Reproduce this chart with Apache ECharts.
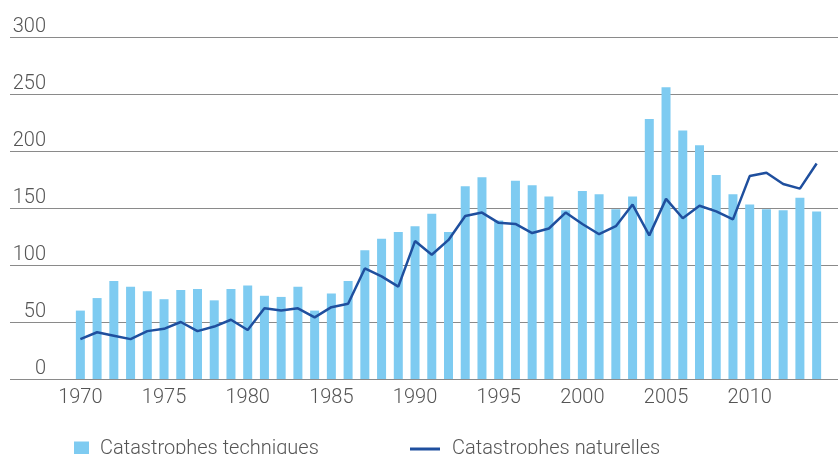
<!DOCTYPE html>
<html>
<head>
<meta charset="utf-8">
<script src="https://cdn.jsdelivr.net/npm/echarts@6/dist/echarts.min.js"></script>
<style>
  html, body { margin: 0; padding: 0; background: #fff; }
  #main { width: 838px; height: 454px; }
</style>
</head>
<body>
<div id="main"></div>
<script>
const years = [];
for (let y = 1970; y <= 2014; y++) years.push(String(y));

const techniques = [60, 71, 86, 81, 77, 70, 78, 79, 69, 79,
  82, 73, 72, 81, 60, 75, 86, 113, 123, 129,
  134, 145, 129, 169, 177, 139, 174, 170, 160, 148,
  165, 162, 149, 160, 228, 256, 218, 205, 179, 162,
  153, 149, 148, 159, 147];

const naturelles = [35, 41, 38, 35, 42, 44, 50, 42, 46, 52,
  43, 62, 60, 62, 54, 63, 66, 97, 90, 81,
  121, 109, 122, 143, 146, 137, 136, 128, 132, 146,
  136, 127, 134, 153, 126, 158, 141, 152, 147, 140,
  178, 181, 171, 167, 189];

const labelYears = ['1970', '1975', '1980', '1985', '1990', '1995', '2000', '2005', '2010'];

const font = 'Roboto, "Liberation Sans", sans-serif';
const textColor = '#555';

const chartDom = document.getElementById('main');
const myChart = echarts.init(chartDom);
const option = {
  animation: false,
  textStyle: { fontFamily: font },
  grid: [
    { left: 10, right: 0, top: 37, bottom: 75 },
    { left: 72, right: 13, top: 37, bottom: 75 }
  ],
  legend: [
    {
      data: ['Catastrophes techniques'],
      left: 74,
      top: 439,
      padding: 0,
      itemWidth: 15,
      itemHeight: 15,
      icon: 'rect',
      textStyle: { fontFamily: font, fontWeight: 300, fontSize: 20, color: textColor, padding: [0, 0, 0, 6] }
    },
    {
      data: ['Catastrophes naturelles'],
      left: 410,
      top: 439,
      padding: 0,
      itemWidth: 30,
      itemHeight: 3,
      icon: 'rect',
      textStyle: { fontFamily: font, fontWeight: 300, fontSize: 20, color: textColor, padding: [0, 0, 0, 7] }
    }
  ],
  xAxis: [
    { type: 'value', gridIndex: 0, show: false, min: 0, max: 1 },
    {
      type: 'category',
      gridIndex: 1,
      data: years,
      axisLine: { show: false },
      axisTick: { show: false },
      axisLabel: {
        interval: 0,
        margin: 9,
        fontSize: 20,
        fontWeight: 300,
        color: textColor,
        formatter: function (v) {
          return labelYears.indexOf(v) >= 0 ? v : '';
        }
      }
    }
  ],
  yAxis: [
    {
      type: 'value',
      gridIndex: 0,
      min: 0,
      max: 300,
      interval: 50,
      axisLine: { show: false },
      axisTick: { show: false },
      splitLine: { lineStyle: { color: '#8a8a8a', width: 1 } },
      axisLabel: {
        inside: true,
        align: 'right',
        verticalAlign: 'bottom',
        margin: 36,
        fontSize: 20,
        fontWeight: 300,
        color: textColor
      }
    },
    {
      type: 'value',
      gridIndex: 1,
      min: 0,
      max: 300,
      interval: 50,
      show: false,
      splitLine: { show: false }
    }
  ],
  series: [
    {
      name: 'Catastrophes techniques',
      type: 'bar',
      xAxisIndex: 1,
      yAxisIndex: 1,
      barWidth: 9,
      itemStyle: { color: '#7ecbf1' },
      data: techniques
    },
    {
      name: 'Catastrophes naturelles',
      type: 'line',
      xAxisIndex: 1,
      yAxisIndex: 1,
      symbol: 'none',
      itemStyle: { color: '#1f4f9e' },
      lineStyle: { color: '#1f4f9e', width: 2.5 },
      data: naturelles
    }
  ]
};
myChart.setOption(option);
</script>
</body>
</html>
